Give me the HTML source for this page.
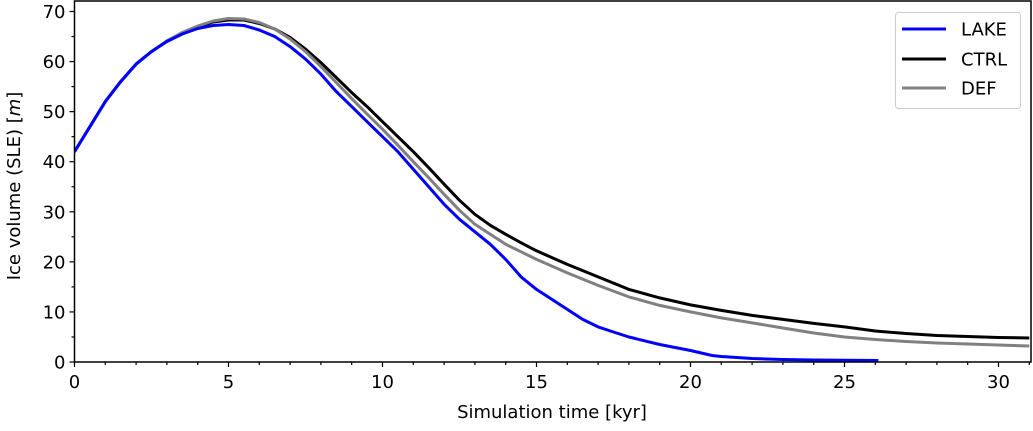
<!DOCTYPE html>
<html><head><meta charset="utf-8"><style>
html,body{margin:0;padding:0;background:#fff;}
svg{display:block;font-family:"DejaVu Sans","Liberation Sans",sans-serif;}
</style></head><body>
<svg id="c" width="1033" height="431"></svg>
<script>
const lakeT=[0,0.5,1,1.5,2,2.5,3,3.5,4,4.5,5,5.5,6,6.5,7,7.5,8,8.5,9,9.5,10,10.5,11,11.5,12,12.5,13,13.5,14,14.5,15,15.5,16,16.5,17,17.5,18,19,20,20.7,21,22,23,24,25,26.1];
const lakeV=[42,47,52,56,59.5,62,64,65.5,66.6,67.2,67.4,67.2,66.3,65,63,60.5,57.5,54,51,48,45,42,38.5,35,31.5,28.5,26,23.5,20.5,17,14.5,12.5,10.5,8.5,7,6,5,3.5,2.3,1.3,1.1,0.7,0.5,0.4,0.35,0.3];
const ctrlT=[0,0.5,1,1.5,2,2.5,3,3.5,4,4.5,5,5.5,6,6.5,7,7.5,8,8.5,9,9.5,10,10.5,11,11.5,12,12.5,13,13.5,14,14.5,15,16,17,18,19,20,21,22,23,24,25,26,27,28,29,30,31];
const ctrlV=[42,47,52,56,59.5,62,64.1,65.7,66.9,67.9,68.3,68.3,67.6,66.5,64.8,62.5,59.8,56.8,53.8,51,48,45,42,38.8,35.5,32.3,29.5,27.3,25.5,23.8,22.2,19.5,17,14.5,12.8,11.4,10.3,9.3,8.5,7.7,7,6.2,5.7,5.3,5.1,4.9,4.8];
const defT=[0,0.5,1,1.5,2,2.5,3,3.5,4,4.5,5,5.5,6,6.5,7,7.5,8,8.5,9,9.5,10,10.5,11,11.5,12,12.5,13,13.5,14,14.5,15,16,17,18,19,20,21,22,23,24,25,26,27,28,29,30,31];
const defV=[42,47,52,56,59.5,62,64.1,65.8,67.1,68.1,68.6,68.5,67.8,66.5,64.5,62,59,55.8,52.6,49.5,46.5,43.3,40,36.8,33.5,30.3,27.5,25.5,23.5,22,20.5,17.8,15.3,13,11.3,10,8.8,7.8,6.8,5.8,5,4.5,4.1,3.8,3.6,3.4,3.2];
const xTicks=[0,5,10,15,20,25,30];
const yTicks=[0,10,20,30,40,50,60,70];

const svg=document.getElementById('c');
const NS='http://www.w3.org/2000/svg';
const L=74.5,R=1031,B=362,T=1;
const X=t=>L+t*(228.5-74.5)/5;
const Y=v=>B-v*(362-11.5)/70;
function mk(tag,a,p){const e=document.createElementNS(NS,tag);for(const k in a)e.setAttribute(k,a[k]);(p||svg).appendChild(e);return e;}

const clip=mk('clipPath',{id:'pc'});mk('rect',{x:L,y:T,width:R-L,height:B-T},clip);
const g=mk('g',{'clip-path':'url(#pc)'});
function seriesG(ts,vs,color,name){
  const pts=ts.map((t,i)=>X(t).toFixed(1)+','+Y(vs[i]).toFixed(1)).join(' ');
  const e=mk('polyline',{points:pts,fill:'none',stroke:color,'stroke-width':3,'stroke-linejoin':'round'},g);
  
  
}
seriesG(ctrlT,ctrlV,'#000','ctrl-line');
seriesG(defT,defV,'#808080','def-line');
seriesG(lakeT,lakeV,'#0000ff','lake-line');

const frame=mk('rect',{x:L,y:T,width:R-L,height:B-T,fill:'none',stroke:'#000','stroke-width':1.5});



for(let t=0;t<=31;t++){const maj=t%5===0;mk('line',{x1:X(t),x2:X(t),y1:B,y2:B+(maj?5:3),stroke:'#000','stroke-width':1.2});}
for(let v=0;v<=70;v+=5){const maj=v%10===0;mk('line',{x1:L,x2:L-(maj?5:3),y1:Y(v),y2:Y(v),stroke:'#000','stroke-width':1.2});}
xTicks.forEach(t=>{const e=mk('text',{x:X(t),y:B+26,'text-anchor':'middle','font-size':18});e.textContent=t;

});
yTicks.forEach(v=>{const e=mk('text',{x:L-9,y:Y(v)+6.5,'text-anchor':'end','font-size':18});e.textContent=v;

});

const xl=mk('text',{x:552,y:418,'text-anchor':'middle','font-size':18});xl.textContent='Simulation time [kyr]';


const yl=mk('text',{x:0,y:0,'text-anchor':'middle','font-size':18,transform:'translate(20,186) rotate(-90)'});
yl.innerHTML='Ice volume (SLE) [<tspan font-style="italic">m</tspan>]';



const lg=mk('g',{});


mk('rect',{x:895.5,y:12.5,width:125,height:96,rx:3,fill:'#fff',stroke:'#ccc','stroke-width':1},lg);
[['LAKE','#0000ff',29],['CTRL','#000',59],['DEF','#808080',88]].forEach(([n,c,y])=>{
  const it=mk('g',{},lg);
  
  
  mk('line',{x1:902,x2:946,y1:y,y2:y,stroke:c,'stroke-width':3},it);
  const t=mk('text',{x:961,y:y+6.5,'font-size':18},it);t.textContent=n;
});
</script>
</body></html>
